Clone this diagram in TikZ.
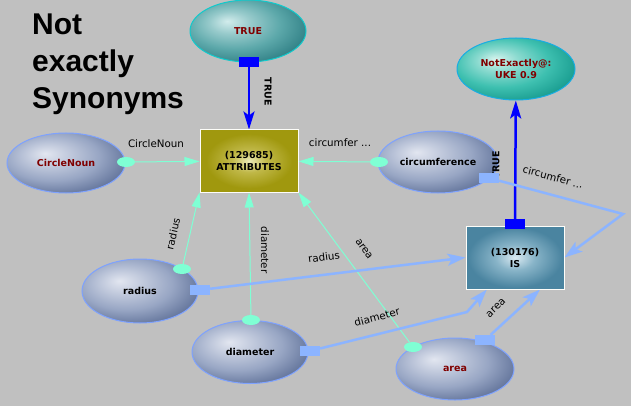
\documentclass[tikz,border=0pt]{standalone}
\usepackage{fontspec}
\setmainfont{DejaVu Sans}
\newfontfamily\titlefont{Liberation Sans}
\usetikzlibrary{arrows.meta,shapes.geometric}
\definecolor{bgc}{HTML}{C0C0C0}
\definecolor{aqua}{HTML}{7FFFD4}
\definecolor{lblue}{HTML}{8CB4FF}
\definecolor{dred}{HTML}{800000}
\definecolor{bwHi}{HTML}{E2E6F0}
\definecolor{bwMid}{HTML}{98A6C4}
\definecolor{bwEdge}{HTML}{5A6C94}
\definecolor{tlHi}{HTML}{D2ECEC}
\definecolor{tlMid}{HTML}{5CA8AA}
\definecolor{tlEdge}{HTML}{2A7A80}
\definecolor{tqHi}{HTML}{D6F4EE}
\definecolor{tqMid}{HTML}{3EC0B0}
\definecolor{tqEdge}{HTML}{12968A}
\definecolor{olHi}{HTML}{EAEAB8}
\definecolor{olMid}{HTML}{C0B848}
\definecolor{olEdge}{HTML}{A0980E}
\definecolor{isHi}{HTML}{DAEAF2}
\definecolor{isMid}{HTML}{88B4C8}
\definecolor{isEdge}{HTML}{4A84A0}
\pgfdeclareradialshading{shBlue}{\pgfpoint{-9bp}{8bp}}{color(0bp)=(bwHi);color(9bp)=(bwHi!55!bwMid);color(20bp)=(bwMid);color(33bp)=(bwEdge);color(60bp)=(bwEdge)}
\pgfdeclareradialshading{shTeal}{\pgfpoint{-9bp}{8bp}}{color(0bp)=(tlHi);color(9bp)=(tlHi!50!tlMid);color(20bp)=(tlMid);color(33bp)=(tlEdge);color(60bp)=(tlEdge)}
\pgfdeclareradialshading{shTurq}{\pgfpoint{-9bp}{8bp}}{color(0bp)=(tqHi);color(9bp)=(tqHi!50!tqMid);color(20bp)=(tqMid);color(33bp)=(tqEdge);color(60bp)=(tqEdge)}
\pgfdeclareradialshading{shOlive}{\pgfpoint{0bp}{0bp}}{color(0bp)=(olHi);color(9bp)=(olMid);color(22bp)=(olEdge);color(60bp)=(olEdge)}
\pgfdeclareradialshading{shSteel}{\pgfpoint{0bp}{0bp}}{color(0bp)=(isHi);color(10bp)=(isMid);color(24bp)=(isEdge);color(60bp)=(isEdge)}
\pgfdeclarelayer{bg}
\pgfdeclarelayer{edges}
\pgfdeclarelayer{front}
\pgfsetlayers{bg,edges,main,front}
\begin{document}
\begin{tikzpicture}[x=1pt,y=-1pt,
  nfont/.style={font=\bfseries\fontsize{9.5}{12}\selectfont},
  ell/.style={ellipse, inner sep=0pt, line width=1pt, nfont, align=center},
  bell/.style={ell, shading=shBlue, draw=lblue!90!blue},
  rectbox/.style={rectangle, inner sep=0pt, minimum width=98, minimum height=62, line width=1pt, nfont, align=center, draw=white!92!olHi},
  cmark/.style={ellipse, fill=aqua, minimum width=18, minimum height=10, inner sep=0pt},
  bsq/.style={rectangle, fill=blue, minimum width=20, minimum height=10, inner sep=0pt},
  lsq/.style={rectangle, fill=lblue, minimum width=20, minimum height=10, inner sep=0pt},
  cedge/.style={draw=aqua, line width=1pt, -{Triangle[length=15pt,width=9pt]}},
  bedge/.style={draw=blue, line width=2.5pt, -{Stealth[length=18pt,width=11pt,inset=4pt]}},
  ledge/.style={draw=lblue, line width=2.5pt, -{Stealth[length=18pt,width=12pt,inset=4pt]}},
  elab/.style={font=\fontsize{10.3}{12}\selectfont, inner sep=0pt},
  blab/.style={nfont, inner sep=0pt},
  ttl/.style={anchor=base west, font=\titlefont\bfseries\fontsize{30}{36}\selectfont, inner sep=0pt}]
\begin{pgfonlayer}{bg}
\fill[bgc] (0,0) rectangle (631,406);
\end{pgfonlayer}
\useasboundingbox (0,0) rectangle (631,406);

% title
\node[ttl] (t1) at (32,35) {Not};
\node[ttl] (t2) at (32,72) {exactly};
\node[ttl] (t3) at (32,109) {Synonyms};

% main nodes
\node[ell, shading=shTeal, draw=tlEdge!40!cyan, minimum width=116, minimum height=62, text=dred] (true) at (248,31) {TRUE};
\node[ell, shading=shTurq, draw=cyan!80!tqMid, minimum width=118, minimum height=62, text=dred] (ne) at (516,69) {NotExactly@:\\UKE 0.9};
\node[bell, minimum width=118, minimum height=60, text=dred] (cn) at (66,163) {CircleNoun};
\node[bell, minimum width=120, minimum height=62] (circ) at (438,162) {circumference};
\node[bell, minimum width=116, minimum height=64] (rad) at (140,291) {radius};
\node[bell, minimum width=116, minimum height=63] (dia) at (250,352) {diameter};
\node[bell, minimum width=118, minimum height=62, text=dred] (area) at (455,369) {area};
\node[rectbox, shading=shOlive] (attr) at (249,161) {(129685)\\ATTRIBUTES};
\node[rectbox, shading=shSteel, minimum height=63] (is) at (515,257.5) {(130176)\\IS};

% markers
\begin{pgfonlayer}{front}
\node[bsq] (trueSq) at (249,62) {};
\node[bsq] (isSq) at (515,224) {};
\node[cmark] (cnM) at (126,162) {};
\node[cmark] (circM) at (379,162) {};
\node[cmark] (radM) at (182,269) {};
\node[cmark] (diaM) at (251,320) {};
\node[cmark] (areaM) at (413,347) {};
\node[lsq] (circSq) at (489,178) {};
\node[lsq] (radSq) at (200,290) {};
\node[lsq] (diaSq) at (310,351) {};
\node[lsq] (areaSq) at (485,340) {};
\end{pgfonlayer}
\coordinate (circBend) at (623,214);
\coordinate (diaBend) at (467,312);

% connectors
\begin{pgfonlayer}{edges}
\draw[bedge] (trueSq) -- (attr);
\draw[bedge] (isSq) -- (ne);
\draw[cedge] (cnM) -- (attr);
\draw[cedge] (circM) -- (attr);
\draw[cedge] (radM) -- (attr.south west);
\draw[cedge] (diaM) -- (attr.south);
\draw[cedge] (areaM) -- (attr.south east);
\draw[ledge] (circSq) -- (circBend) -- (is.east);
\draw[ledge] (radSq) -- (is.west);
\draw[ledge] (diaSq) -- (diaBend) -- (is);
\draw[ledge] (areaSq) -- (is.-52);
\end{pgfonlayer}

% labels
\node[blab, rotate=-90] (lTrue1) at (268,92) {TRUE};
\node[blab, rotate=90] (lTrue2) at (496,165) {TRUE};
\node[elab] (lCn) at (156,144) {CircleNoun};
\node[elab] (lCirc1) at (340,143) {circumfer ...};
\node[elab, rotate=77] (lRad1) at (173,234) {radius};
\node[elab, rotate=-90] (lDia1) at (265,250) {diameter};
\node[elab, rotate=-55] (lArea1) at (364,249) {area};
\node[elab, rotate=7] (lRad2) at (324,257) {radius};
\node[elab, rotate=15] (lDia2) at (377,317) {diameter};
\node[elab, rotate=44] (lArea2) at (496,308) {area};
\node[elab, rotate=-15] (lCirc2) at (553,177) {circumfer ...};
\end{tikzpicture}
\end{document}
